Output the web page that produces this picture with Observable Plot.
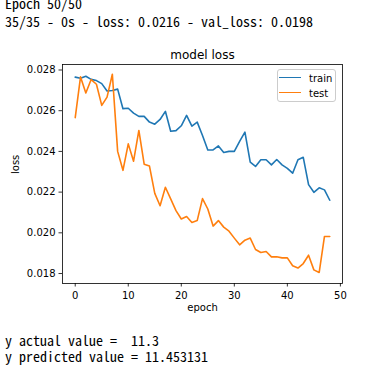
<!DOCTYPE html>
<html>
<head>
<meta charset="utf-8">
<script src="https://cdn.jsdelivr.net/npm/d3@7"></script>
<script src="https://cdn.jsdelivr.net/npm/@observablehq/plot@0.6"></script>
<style>
  html, body { margin: 0; padding: 0; background: #fff; }
  #page { position: relative; width: 384px; height: 367px; overflow: hidden; background: #fff; }
  .con { position: absolute; left: 5px; font-family: "Noto Sans Mono CJK KR", "Noto Sans Mono CJK SC", "DejaVu Sans Mono", monospace; font-size: 14px; line-height: 14px; color: #000; white-space: pre; }
  #chart { position: absolute; left: 0; top: 0; }
  #legend { position: absolute; left: 277px; top: 69px; width: 59px; height: 33px; box-sizing: border-box; border: 1px solid #cccccc; border-radius: 3px; background: rgba(255,255,255,0.8); font-family: "DejaVu Sans", sans-serif; font-size: 10px; line-height: 12px; }
  .sw { position: absolute; left: 1px; width: 22px; height: 1.5px; }
  .lt { position: absolute; left: 31px; color: #000; white-space: pre; }
</style>
</head>
<body>
<div id="page">
  <div id="chart"></div>
  <div class="con" id="l1" style="top:-4px"></div>
  <div class="con" id="l2" style="top:14px"></div>
  <div class="con" id="l3" style="top:333px"></div>
  <div class="con" id="l4" style="top:349px"></div>
  <div id="legend"></div>
</div>
<script>
const consoleTop = ["Epoch 50/50", "35/35 - 0s - loss: 0.0216 - val_loss: 0.0198"];
const consoleBottom = ["y actual value =  11.3", "y predicted value = 11.453131"];

const seriesNames = ["train", "test"];
const seriesColors = ["#1f77b4", "#ff7f0e"];

const trainLoss = [0.02765, 0.02759, 0.02769, 0.02754, 0.02748, 0.02733, 0.02697, 0.02699, 0.02706,
  0.02610, 0.02612, 0.02588, 0.02572, 0.02572, 0.02544, 0.02534, 0.02557, 0.02597,
  0.02499, 0.02502, 0.02526, 0.02577, 0.02524, 0.02544, 0.02478, 0.02407, 0.02407,
  0.02427, 0.02395, 0.02400, 0.02400, 0.02449, 0.02495, 0.02347, 0.02326, 0.02359,
  0.02359, 0.02334, 0.02360, 0.02334, 0.02317, 0.02293, 0.02359, 0.02371, 0.02237,
  0.02199, 0.02221, 0.02211, 0.02160];

const testLoss = [0.02566, 0.02766, 0.02687, 0.02753, 0.02730, 0.02626, 0.02667, 0.02779, 0.02400,
  0.02307, 0.02437, 0.02352, 0.02503, 0.02337, 0.02328, 0.02194, 0.02133, 0.02224,
  0.02167, 0.02109, 0.02068, 0.02080, 0.02051, 0.02060, 0.02168, 0.02117, 0.02033,
  0.02060, 0.02028, 0.02008, 0.01974, 0.01941, 0.01964, 0.01974, 0.01918, 0.01903,
  0.01908, 0.01882, 0.01882, 0.01877, 0.01877, 0.01838, 0.01827, 0.01849, 0.01890,
  0.01818, 0.01805, 0.01982, 0.01982];

const xTicks = [0, 10, 20, 30, 40, 50];
const yTicks = [0.018, 0.020, 0.022, 0.024, 0.026, 0.028];

const trainData = trainLoss.map((v, i) => ({epoch: i, loss: v}));
const testData = testLoss.map((v, i) => ({epoch: i, loss: v}));

document.getElementById("l1").textContent = consoleTop[0];
document.getElementById("l2").textContent = consoleTop[1];
document.getElementById("l3").textContent = consoleBottom[0];
document.getElementById("l4").textContent = consoleBottom[1];

const chart = Plot.plot({
  width: 384,
  height: 367,
  marginTop: 64,
  marginRight: 42,
  marginBottom: 84,
  marginLeft: 62,
  style: {fontFamily: "DejaVu Sans", fontSize: "10px", background: "transparent", color: "#000"},
  x: {domain: [-2.4, 50.4]},
  y: {domain: [0.01751, 0.02827]},
  marks: [
    Plot.line(trainData, {x: "epoch", y: "loss", stroke: seriesColors[0], strokeWidth: 1.6}),
    Plot.line(testData, {x: "epoch", y: "loss", stroke: seriesColors[1], strokeWidth: 1.6}),
    Plot.frame({stroke: "#000", strokeWidth: 0.8}),
    Plot.axisX({ticks: xTicks, tickSize: 3.5, tickPadding: 4.5, strokeWidth: 0.8, label: null, fontSize: 10}),
    Plot.axisY({ticks: yTicks, tickSize: 3.5, tickPadding: 3.5, strokeWidth: 0.8, label: null, fontSize: 10, tickFormat: d3.format(".3f")}),
    Plot.text(["epoch"], {frameAnchor: "bottom", dy: 27, fontSize: 10, fill: "#000"}),
    Plot.text(["loss"], {frameAnchor: "left", dx: -46.3, rotate: -90, fontSize: 10, fill: "#000"}),
    Plot.text(["model loss"], {frameAnchor: "top", dy: -6, lineAnchor: "bottom", fontSize: 12, fill: "#000"})
  ]
});
document.getElementById("chart").appendChild(chart);

// legend
const legend = document.getElementById("legend");
const swTops = [6.95, 21.95];
const txTops = [2.5, 17.8];
seriesNames.forEach((name, i) => {
  const sw = document.createElement("div");
  sw.className = "sw";
  sw.style.top = swTops[i] + "px";
  sw.style.background = seriesColors[i];
  legend.appendChild(sw);
  const t = document.createElement("div");
  t.className = "lt";
  t.style.top = txTops[i] + "px";
  t.textContent = name;
  legend.appendChild(t);
});
</script>
</body>
</html>
